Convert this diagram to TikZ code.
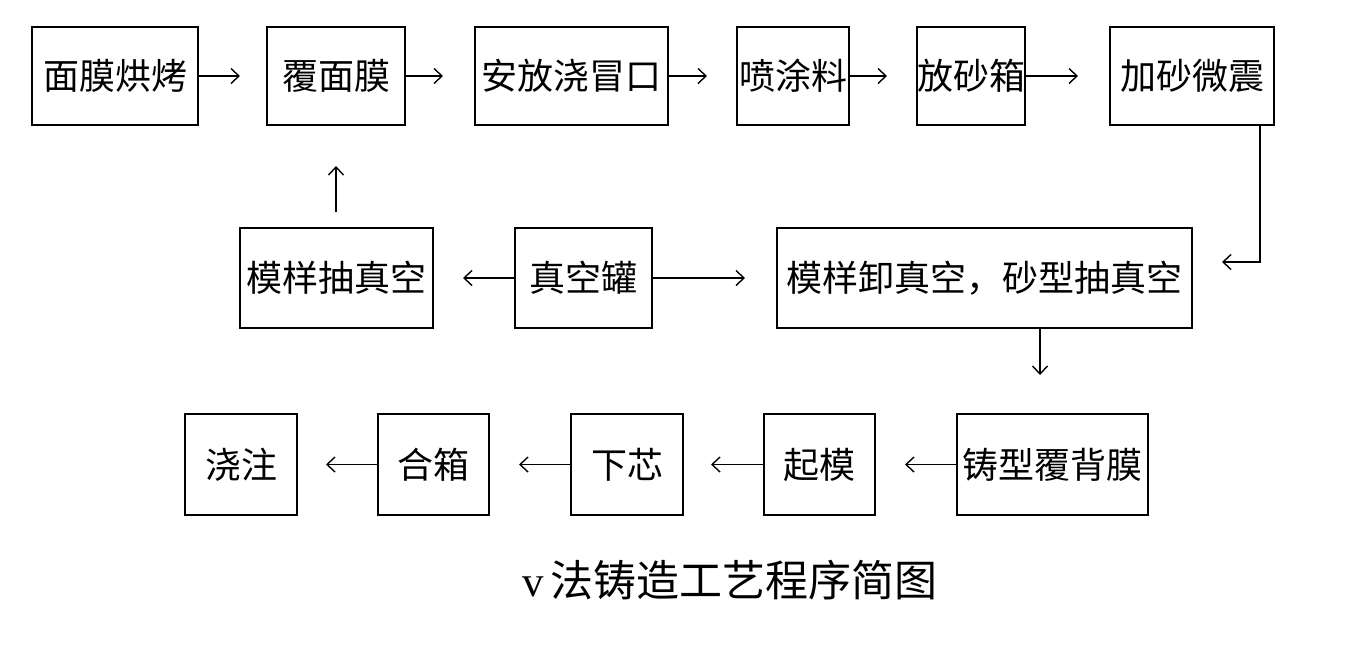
\documentclass[tikz,border=0pt]{standalone}
\usepackage{fontspec}
\newfontfamily\cjk{Noto Sans CJK SC}
\usetikzlibrary{arrows.meta}
\begin{document}
\begin{tikzpicture}[x=1pt,y=-1pt,
  box/.style={draw,line width=1.8pt,rectangle,inner sep=0pt,font=\cjk\fontsize{36}{40}\selectfont},
  arr/.style={line width=1.6pt,-{Straight Barb[length=8pt,width=15pt,line width=1.4pt]}}]
\useasboundingbox (0,0) rectangle (1364,649);
% row 1
\node[box,minimum width=166pt,minimum height=98pt] (a) at (115,76) {面膜烘烤};
\node[box,minimum width=138pt,minimum height=98pt] (b) at (336,76) {覆面膜};
\node[box,minimum width=193pt,minimum height=98pt] (c) at (571.5,76) {安放浇冒口};
\node[box,minimum width=112pt,minimum height=98pt] (d) at (793,76) {喷涂料};
\node[box,minimum width=108pt,minimum height=98pt] (e) at (971,76) {放砂箱};
\node[box,minimum width=164pt,minimum height=98pt] (f) at (1192,76) {加砂微震};
% row 2
\node[box,minimum width=193pt,minimum height=100pt] (g) at (336.5,278) {模样抽真空};
\node[box,minimum width=137pt,minimum height=100pt] (h) at (583.5,278) {真空罐};
\node[box,minimum width=415pt,minimum height=100pt] (i) at (984.5,278) {模样卸真空，砂型抽真空};
% row 3
\node[box,minimum width=112pt,minimum height=101pt] (j) at (241,464.5) {浇注};
\node[box,minimum width=111pt,minimum height=101pt] (k) at (433.5,464.5) {合箱};
\node[box,minimum width=112pt,minimum height=101pt] (l) at (627,464.5) {下芯};
\node[box,minimum width=111pt,minimum height=101pt] (m) at (819.5,464.5) {起模};
\node[box,minimum width=191pt,minimum height=101pt] (n) at (1052.5,464.5) {铸型覆背膜};
% free ends
\coordinate (a1) at (240,76);
\coordinate (b1) at (443,76);
\coordinate (c1) at (707,76);
\coordinate (d1) at (887,76);
\coordinate (e1) at (1078,76);
\coordinate (f0) at (1260,125);
\coordinate (f1) at (1260,262);
\coordinate (f2) at (1222,262);
\coordinate (g0) at (336,212);
\coordinate (g1) at (336,166);
\coordinate (h1) at (463,278);
\coordinate (h2) at (745,278);
\coordinate (i0) at (1040,328);
\coordinate (i1) at (1040,375);
\coordinate (n1) at (905,464.5);
\coordinate (m1) at (711,464.5);
\coordinate (l1) at (519,464.5);
\coordinate (k1) at (326,464.5);
% connectors
\draw[arr] (a.east) -- (a1);
\draw[arr] (b.east) -- (b1);
\draw[arr] (c.east) -- (c1);
\draw[arr] (d.east) -- (d1);
\draw[arr] (e.east) -- (e1);
\draw[arr] (f0) -- (f1) -- (f2);
\draw[arr] (g0) -- (g1);
\draw[arr] (h.west) -- (h1);
\draw[arr] (h.east) -- (h2);
\draw[arr] (i0) -- (i1);
\draw[arr] (n.west) -- (n1);
\draw[arr] (m.west) -- (m1);
\draw[arr] (l.west) -- (l1);
\draw[arr] (k.west) -- (k1);
% title
\node[font=\cjk\fontsize{43}{48}\selectfont] (title) at (730,580) {{\fontspec{Liberation Serif}v}\,法铸造工艺程序简图};
\end{tikzpicture}
\end{document}
